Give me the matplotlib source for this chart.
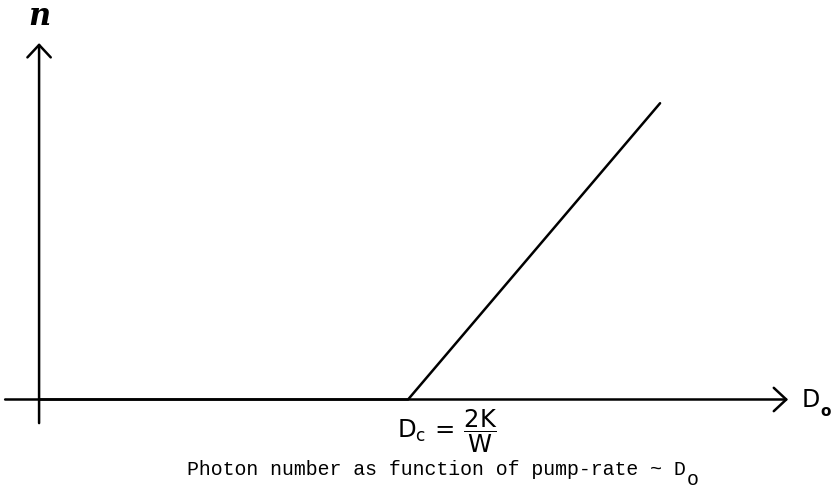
"""
Photon number n versus pump rate D0: zero below threshold D_c = 2K/W,
rising linearly above it.
"""

import matplotlib
matplotlib.use("Agg")
import matplotlib.pyplot as plt

# ---------------------------------------------------------------------------
# Data (pump rate in units of the threshold D_c)
# ---------------------------------------------------------------------------
pump_rate = [0.0, 1.0, 1.683]
photon_number = [0.0, 0.0, 0.803]

axis_labels = ["n", "D", "o"]
threshold_label = r"$\mathsf{D_c}\,=\,\dfrac{\mathsf{2K}}{\mathsf{W}}$"
caption = "Photon number as function of pump-rate ~ D"
caption_sub = "o"

# ---------------------------------------------------------------------------
# Figure: one axes covering the canvas, equal scaling, no frame
# ---------------------------------------------------------------------------
fig = plt.figure(figsize=(8.38, 4.91), dpi=100)
ax = fig.add_axes([0, 0, 1, 1])
ax.set_xlim(-0.1057, 2.165)
ax.set_ylim(-0.248, 1.0827)
ax.set_aspect("equal")
ax.axis("off")

ink = "black"
arrow = dict(arrowstyle="->,head_length=0.45,head_width=0.42",
             color=ink, lw=1.8, mutation_scale=20, shrinkA=0, shrinkB=0)

# axes drawn as arrows
ax.annotate("", xy=(2.03, 0.0), xytext=(-0.092, 0.0), arrowprops=arrow)
ax.annotate("", xy=(0.0, 0.966), xytext=(0.0, -0.064), arrowprops=arrow)

# response curve
ax.plot(pump_rate, photon_number, color=ink, lw=1.8, solid_capstyle="round")

# axis names
ax.text(0.0, 1.015, axis_labels[0], ha="center", va="baseline",
        fontsize=22, fontfamily="DejaVu Serif", fontstyle="italic",
        fontweight="bold", color=ink)
d0 = ax.text(2.067, -0.001, axis_labels[1], ha="left", va="center",
             fontsize=17, fontfamily="DejaVu Sans", color=ink)
ax.annotate(axis_labels[2], xy=(1, 0), xycoords=d0, xytext=(0.5, 0),
            textcoords="offset points", ha="left", va="center",
            fontsize=11, fontweight="bold", color=ink)

# threshold under the axis
ax.text(1.106, -0.085, threshold_label, ha="center", va="center",
        fontsize=17.5, color=ink)

# caption in typewriter face with a dropped subscript
cap = ax.text(0.401, -0.2046, caption, ha="left", va="baseline",
              fontsize=14.3, fontfamily="Liberation Mono", color=ink)
ax.annotate(caption_sub, xy=(1, 0), xycoords=cap, xytext=(0.5, -7),
            textcoords="offset points", ha="left", va="bottom",
            fontsize=14.3, fontfamily="Liberation Mono", color=ink)

fig.savefig("out.png", dpi=100, facecolor="white")
